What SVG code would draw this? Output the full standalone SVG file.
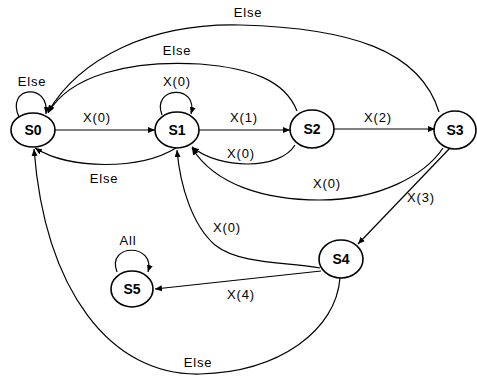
<svg xmlns="http://www.w3.org/2000/svg" width="477" height="376" viewBox="0 0 477 376">
  <style>
    .node ellipse { fill: #ffffff; stroke: #000000; stroke-width: 1.6; }
    .node text { font-family: "Liberation Sans", Arial, sans-serif; font-size: 14px; font-weight: bold; text-anchor: middle; fill: #000; }
    .edges path { fill: none; stroke: #000000; stroke-width: 1.2; marker-end: url(#arrow); }
    .lbl { font-family: "Liberation Sans", Arial, sans-serif; font-size: 13px; letter-spacing: 0.8px; text-anchor: middle; fill: #000; }
  </style>
  <defs>
    <marker id="arrow" markerUnits="userSpaceOnUse" markerWidth="8" markerHeight="8" refX="7" refY="3" orient="auto">
      <path d="M0,0 L7,3 L0,6 Z" fill="#000"/>
    </marker>
  </defs>
  <rect width="477" height="376" fill="#ffffff"/>

  <!-- transitions -->
  <g id="edges" class="edges">
    <path id="e-s0-s0" d="M 19,117 C 5,86 50,82 46,114"/>
    <path id="e-s0-s1" d="M 55,130 L 155,130"/>
    <path id="e-s1-s1" d="M 162,115 C 151,86 199,84 191,114"/>
    <path id="e-s1-s2" d="M 199,130 L 290,130"/>
    <path id="e-s2-s3" d="M 334,129 L 435,129"/>
    <path id="e-s2-s1" d="M 295,145 C 280,170 220,170 192,147"/>
    <path id="e-s1-s0" d="M 176,148 C 140,170 70,170 35,148"/>
    <path id="e-s2-s0" d="M 297,111 C 285,80 250,68 200,64 C 130,60 70,75 48,113"/>
    <path id="e-s3-s0" d="M 439,112 C 420,50 350,28 240,25 C 150,23 80,58 48,112"/>
    <path id="e-s3-s1" d="M 443,148 C 425,175 380,200 320,200 C 265,200 215,185 192,148"/>
    <path id="e-s3-s4" d="M 450,148 L 358,244"/>
    <path id="e-s4-s1" d="M 320,268 C 290,262 240,265 215,245 C 192,225 180,185 177,150"/>
    <path id="e-s4-s5" d="M 321,271 L 155,289"/>
    <path id="e-s5-s5" d="M 117,272 C 106,243 156,243 148,272"/>
    <path id="e-s4-s0" d="M 340,278 C 336,330 280,372 200,374 C 110,376 45,290 34,149"/>
  </g>

  <!-- transition labels -->
  <g id="labels">
    <text class="lbl" x="32" y="86">Else</text>
    <text class="lbl" x="97" y="122">X(0)</text>
    <text class="lbl" x="177" y="86">X(0)</text>
    <text class="lbl" x="244" y="122">X(1)</text>
    <text class="lbl" x="378" y="122">X(2)</text>
    <text class="lbl" x="241" y="158">X(0)</text>
    <text class="lbl" x="104" y="183">Else</text>
    <text class="lbl" x="177" y="55">Else</text>
    <text class="lbl" x="248" y="17">Else</text>
    <text class="lbl" x="327" y="188">X(0)</text>
    <text class="lbl" x="421" y="202">X(3)</text>
    <text class="lbl" x="227" y="232">X(0)</text>
    <text class="lbl" x="241" y="299">X(4)</text>
    <text class="lbl" x="128" y="245">All</text>
    <text class="lbl" x="198" y="367">Else</text>
  </g>

  <!-- states -->
  <g id="S0" class="node"><ellipse cx="33" cy="130" rx="22" ry="17"/><text x="33" y="135">S0</text></g>
  <g id="S1" class="node"><ellipse cx="177" cy="130" rx="22" ry="18"/><text x="177" y="135">S1</text></g>
  <g id="S2" class="node"><ellipse cx="312" cy="129" rx="22" ry="19"/><text x="312" y="134">S2</text></g>
  <g id="S3" class="node"><ellipse cx="455" cy="130" rx="21" ry="19"/><text x="455" y="135">S3</text></g>
  <g id="S4" class="node"><ellipse cx="341" cy="259" rx="22" ry="19"/><text x="341" y="264">S4</text></g>
  <g id="S5" class="node"><ellipse cx="132" cy="289" rx="21" ry="18"/><text x="132" y="294">S5</text></g>
</svg>
